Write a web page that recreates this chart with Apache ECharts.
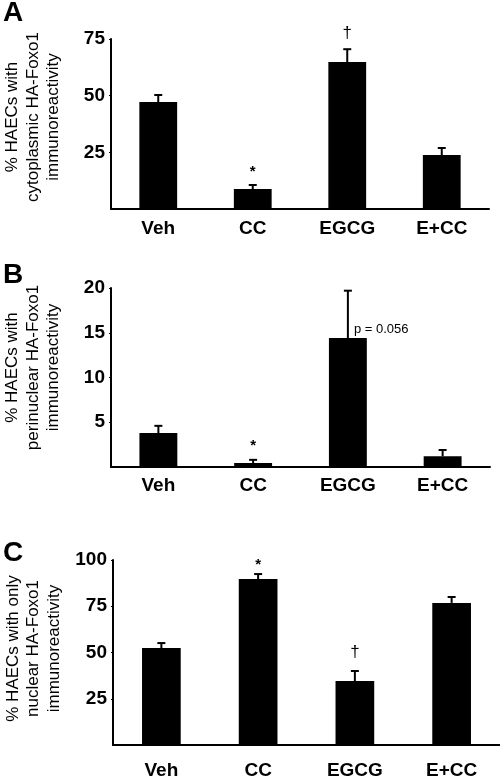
<!DOCTYPE html>
<html><head><meta charset="utf-8">
<script src="https://cdn.jsdelivr.net/npm/echarts@6/dist/echarts.min.js"></script>
<style>html,body{margin:0;padding:0;background:#fff}#c{width:500px;height:777px}</style>
</head><body><div id="c"></div>
<script>
const categories = ['Veh', 'CC', 'EGCG', 'E+CC'];
const meanA = [47.2, 8.8, 64.8, 23.8];
const errA = [3.1, 1.8, 5.7, 3.1];
const marksA = ['', '*', '†', ''];
const meanB = [3.8, 0.45, 14.4, 1.2];
const errB = [0.8, 0.35, 5.3, 0.7];
const marksB = ['', '*', '', ''];
const noteB = ['', '', 'p = 0.056', ''];
const meanC = [52.4, 89.7, 34.6, 76.8];
const errC = [2.7, 2.7, 5.4, 3.2];
const marksC = ['', '*', '†', ''];
const yTicksA = [0, 75, 25];
const yTicksB = [0, 20, 5];
const yTicksC = [0, 100, 25];
const titleA = '% HAECs with\ncytoplasmic HA-Foxo1\nimmunoreactivity';
const titleB = '% HAECs with\nperinuclear HA-Foxo1\nimmunoreactivity';
const titleC = '% HAECs with only\nnuclear HA-Foxo1\nimmunoreactivity';

const FONT = '"Liberation Sans", Arial, Helvetica, sans-serif';
const chart = echarts.init(document.getElementById('c'), null, {renderer: 'canvas'});

const grids = [
  {left: 111, top: 39, width: 378, height: 170, outerBoundsMode: 'none', containLabel: false},
  {left: 111, top: 288, width: 379, height: 179, outerBoundsMode: 'none', containLabel: false},
  {left: 113, top: 560, width: 387, height: 185, outerBoundsMode: 'none', containLabel: false}
];
const labelMargins = [10, 9, 16];
const titleShift = [14, 20, 8];
const ticks = [yTicksA, yTicksB, yTicksC];
const titles = [titleA, titleB, titleC];
const means = [meanA, meanB, meanC];
const errs = [errA, errB, errC];
const marks = [marksA, marksB, marksC];
const notes = [null, noteB, null];

const xAxis = [], yAxis = [], series = [];
for (let i = 0; i < 3; i++) {
  xAxis.push({
    type: 'category', gridIndex: i, data: categories,
    axisLine: {lineStyle: {color: '#000', width: 2}},
    axisTick: {show: false},
    axisLabel: {color: '#000', fontFamily: FONT, fontWeight: 'bold', fontSize: 19, margin: labelMargins[i]}
  });
  yAxis.push({
    type: 'value', gridIndex: i, min: ticks[i][0], max: ticks[i][1], interval: ticks[i][2],
    name: titles[i], nameLocation: 'middle', nameRotate: 90, nameGap: 47,
    nameTextStyle: {color: '#000', fontFamily: FONT, fontSize: 17, lineHeight: 20.5, align: 'center',
      padding: [0, 0, 0, titleShift[i]]},
    axisLine: {show: true, lineStyle: {color: '#000', width: 2}},
    axisTick: {show: true, length: 2, lineStyle: {color: '#000', width: 1}},
    splitLine: {show: false},
    axisLabel: {color: '#000', fontFamily: FONT, fontWeight: 'bold', fontSize: 19, margin: 6, showMinLabel: false}
  });
  series.push({
    type: 'bar', xAxisIndex: i, yAxisIndex: i, data: means[i],
    barWidth: '40%', itemStyle: {color: '#000'}, silent: true, animation: false
  });
  const m = marks[i], n = notes[i];
  series.push({
    type: 'custom', xAxisIndex: i, yAxisIndex: i, animation: false, silent: true,
    data: means[i].map((v, k) => [k, v, errs[i][k]]),
    encode: {x: 0, y: 1},
    z: 3,
    renderItem: function (params, api) {
      const k = api.value(0);
      const base = api.coord([k, api.value(1)]);
      const top = api.coord([k, api.value(1) + api.value(2)]);
      const children = [
        {type: 'line', shape: {x1: base[0], y1: base[1], x2: top[0], y2: top[1]}, style: {stroke: '#000', lineWidth: 2}},
        {type: 'line', shape: {x1: top[0] - 4, y1: top[1], x2: top[0] + 4, y2: top[1]}, style: {stroke: '#000', lineWidth: 2}}
      ];
      const mk = m[k];
      if (mk) {
        const isDagger = mk === '†';
        children.push({
          type: 'text',
          style: {
            text: mk, x: top[0], y: isDagger ? top[1] - (i === 0 ? 16 : 19) : top[1] - (i === 2 ? 2 : 6),
            textAlign: 'center', textVerticalAlign: isDagger ? 'middle' : 'bottom',
            font: (isDagger ? '17px ' : 'bold 15px ') + FONT, fill: '#000'
          }
        });
      }
      if (n && n[k]) {
        children.push({
          type: 'text',
          style: {
            text: n[k], x: base[0] + 6, y: base[1] - 9,
            textAlign: 'left', textVerticalAlign: 'middle',
            font: '13px ' + FONT, fill: '#000'
          }
        });
      }
      return {type: 'group', children: children};
    }
  });
}

chart.setOption({
  backgroundColor: '#fff',
  animation: false,
  title: [
    {text: 'A', left: -2, top: -6, textStyle: {fontFamily: FONT, fontWeight: 'bold', fontSize: 28, color: '#000'}},
    {text: 'B', left: -2, top: 256, textStyle: {fontFamily: FONT, fontWeight: 'bold', fontSize: 28, color: '#000'}},
    {text: 'C', left: -2, top: 534, textStyle: {fontFamily: FONT, fontWeight: 'bold', fontSize: 28, color: '#000'}}
  ],
  grid: grids,
  xAxis: xAxis,
  yAxis: yAxis,
  series: series
});
</script></body></html>
